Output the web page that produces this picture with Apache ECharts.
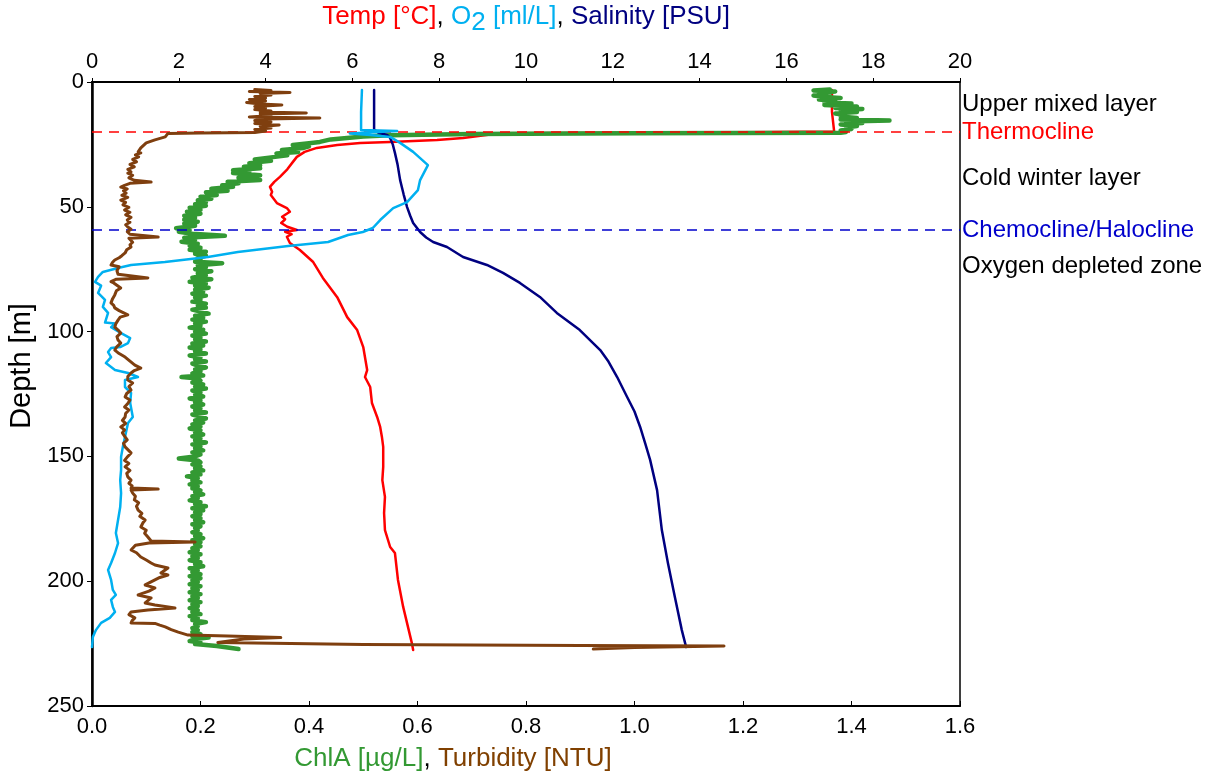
<!DOCTYPE html>
<html>
<head>
<meta charset="utf-8">
<script src="https://cdn.jsdelivr.net/npm/echarts@6.0.0/dist/echarts.min.js"></script>
<style>
  html, body { margin: 0; padding: 0; background: #fff; }
  #chart { width: 1217px; height: 774px; }
</style>
</head>
<body>
<div id="chart"></div>
<script>
// profiles as [value, depth m]
// top axis: temperature, oxygen, salinity
const tempProfile = [
  [17.05, 3.2], [17.05, 12.0], [17.1, 19.8], [15.0, 20.1], [12.0, 20.3], [9.4, 20.5], [8.55, 22.4],
  [7.95, 23.2], [6.87, 24.0], [6.18, 24.4], [5.65, 25.2], [5.18, 26.4], [4.9, 28.0], [4.72, 30.0],
  [4.63, 32.0], [4.5, 35.0], [4.33, 38.0], [4.2, 40.0], [4.1, 42.0], [4.15, 44.0], [4.12, 45.3],
  [4.26, 48.5], [4.49, 50.5], [4.56, 52.0], [4.38, 54.0], [4.45, 55.0], [4.36, 56.5], [4.5, 58.0],
  [4.72, 59.3], [4.45, 60.0], [4.6, 61.0], [4.49, 62.0], [4.56, 64.5], [4.79, 67.3], [5.09, 72.0],
  [5.32, 78.5], [5.65, 86.2], [5.88, 94.2], [6.11, 99.4], [6.25, 106.2], [6.34, 115.4], [6.29, 118.2],
  [6.41, 122.2], [6.45, 128.6], [6.57, 134.2], [6.64, 138.2], [6.68, 142.2], [6.71, 146.2],
  [6.71, 154.2], [6.69, 159.5], [6.75, 166.2], [6.73, 172.7], [6.75, 179.5], [6.87, 186.3],
  [6.98, 188.7], [7.05, 199.5], [7.17, 210.3], [7.37, 224.8], [7.4, 227.6]
];
const o2Profile = [
  [6.22, 3.2], [6.2, 12.0], [6.2, 19.2], [7.03, 19.6], [5.94, 20.6], [6.41, 21.2], [6.87, 22.0],
  [7.1, 24.4], [7.4, 28.0], [7.74, 33.3], [7.56, 39.3], [7.51, 43.3], [7.26, 48.1], [6.94, 50.5],
  [6.64, 55.3], [6.47, 58.5], [6.24, 60.1], [5.9, 61.3], [5.44, 64.1], [4.52, 65.7], [3.36, 68.1],
  [2.67, 70.1], [1.68, 72.1], [0.9, 73.3], [0.6, 74.5], [0.25, 76.1], [0.14, 78.1], [0.07, 80.1],
  [0.21, 81.6], [0.25, 82.4], [0.14, 84.5], [0.3, 87.3], [0.25, 90.1], [0.37, 92.5], [0.3, 96.4],
  [0.53, 96.8], [0.44, 98.2], [0.67, 100.6], [0.88, 102.6], [0.83, 104.6], [0.65, 106.2],
  [0.44, 106.6], [0.37, 108.2], [0.44, 110.2], [0.32, 112.6], [0.53, 115.4], [0.83, 116.6],
  [1.06, 118.2], [0.76, 119.4], [0.76, 122.2], [0.9, 124.6], [0.88, 128.6], [0.94, 134.2],
  [0.83, 136.6], [0.78, 140.6], [0.71, 146.2], [0.67, 150.2], [0.67, 155.4], [0.65, 159.5],
  [0.67, 164.7], [0.65, 170.3], [0.6, 175.5], [0.55, 180.7], [0.6, 184.7], [0.53, 188.7],
  [0.44, 192.7], [0.37, 195.5], [0.44, 199.5], [0.48, 203.5], [0.55, 205.5], [0.44, 207.5],
  [0.48, 210.3], [0.53, 212.3], [0.41, 214.7], [0.21, 216.7], [0.09, 219.6], [0.02, 222.4], [0.0, 226.4]
];
const salinityProfile = [
  [6.5, 3.2], [6.5, 19.0], [6.6, 20.3], [6.8, 21.2], [6.87, 22.4], [6.93, 25.0], [6.98, 28.4],
  [7.04, 33.0], [7.1, 39.3], [7.18, 45.0], [7.26, 50.1], [7.33, 53.5], [7.4, 56.5], [7.56, 60.1],
  [7.7, 62.3], [7.86, 64.1], [8.18, 66.1], [8.55, 70.1], [9.1, 73.3], [9.47, 76.5], [9.86, 80.5],
  [10.32, 86.1], [10.71, 92.5], [11.24, 99.4], [11.71, 107.4], [11.9, 112.0], [12.1, 118.2],
  [12.33, 126.2], [12.5, 132.0], [12.63, 138.2], [12.75, 145.0], [12.86, 151.4], [13.02, 163.5],
  [13.13, 179.5], [13.27, 192.7], [13.43, 206.3], [13.59, 219.6], [13.69, 226.4]
];
// bottom axis: chlorophyll and turbidity
const chlaProfile = [
  [1.36, 3.0], [1.33, 3.4], [1.37, 3.8], [1.34, 4.4], [1.36, 5.0], [1.33, 5.4], [1.35, 6.0], [1.38, 6.4],
  [1.34, 7.0], [1.37, 7.6], [1.35, 8.2], [1.4, 8.6], [1.35, 9.2], [1.41, 9.8], [1.37, 10.4], [1.42, 10.8],
  [1.38, 11.4], [1.41, 12.0], [1.37, 12.6], [1.39, 13.2], [1.38, 13.8], [1.41, 14.4], [1.38, 15.0],
  [1.47, 15.4], [1.39, 15.8], [1.42, 16.4], [1.38, 17.0], [1.41, 17.6], [1.39, 18.2], [1.4, 18.8],
  [1.38, 19.4], [1.39, 20.0], [1.38, 20.3], [1.0, 20.5], [0.7, 20.8], [0.55, 21.3], [0.5, 21.8],
  [0.47, 22.4], [0.44, 23.0], [0.42, 24.0], [0.4, 24.5], [0.37, 25.2], [0.4, 25.8], [0.39, 26.4],
  [0.35, 27.2], [0.38, 28.0], [0.34, 28.6], [0.36, 29.4], [0.33, 30.2], [0.3, 31.0], [0.33, 31.6],
  [0.29, 32.5], [0.31, 33.4], [0.28, 34.0], [0.31, 34.6], [0.26, 35.4], [0.29, 36.0], [0.26, 36.5],
  [0.31, 37.4], [0.27, 38.4], [0.31, 39.3], [0.25, 40.0], [0.27, 40.6], [0.24, 41.4], [0.26, 42.0],
  [0.22, 42.8], [0.25, 43.6], [0.21, 44.2], [0.23, 45.3], [0.2, 46.0], [0.22, 46.8], [0.195, 47.4],
  [0.21, 48.2], [0.19, 49.0], [0.21, 49.6], [0.18, 50.4], [0.2, 51.2], [0.175, 52.0], [0.2, 52.8],
  [0.17, 53.6], [0.19, 54.4], [0.17, 55.2], [0.195, 56.0], [0.17, 56.8], [0.19, 57.6], [0.155, 58.6],
  [0.18, 59.4], [0.16, 60.0], [0.185, 60.8], [0.245, 61.6], [0.17, 62.4], [0.19, 63.2], [0.165, 64.0],
  [0.195, 64.8], [0.18, 65.6], [0.2, 66.4], [0.18, 67.2], [0.21, 68.0], [0.19, 68.8], [0.21, 69.6],
  [0.195, 70.4], [0.2, 71.2], [0.19, 72.0], [0.24, 72.6], [0.195, 73.4], [0.21, 74.2], [0.19, 75.0],
  [0.22, 75.8], [0.195, 76.6], [0.21, 77.4], [0.185, 78.4], [0.22, 79.0], [0.18, 80.0], [0.21, 80.8],
  [0.19, 81.6], [0.215, 82.4], [0.19, 83.2], [0.205, 84.0], [0.185, 84.8], [0.21, 85.6], [0.19, 86.4],
  [0.2, 87.2], [0.185, 88.0], [0.21, 88.8], [0.195, 89.6], [0.21, 90.4], [0.185, 91.2], [0.2, 92.0],
  [0.215, 92.8], [0.19, 93.6], [0.205, 94.4], [0.185, 95.2], [0.21, 96.0], [0.19, 96.8], [0.2, 97.6],
  [0.18, 98.4], [0.205, 99.2], [0.19, 100.0], [0.21, 100.8], [0.185, 101.6], [0.2, 102.4], [0.19, 103.2],
  [0.21, 104.0], [0.185, 104.8], [0.205, 105.6], [0.18, 106.4], [0.2, 107.2], [0.19, 108.0], [0.21, 108.8],
  [0.18, 109.6], [0.2, 110.4], [0.19, 111.2], [0.21, 112.0], [0.185, 112.8], [0.195, 113.6], [0.21, 114.4],
  [0.19, 115.2], [0.2, 116.0], [0.185, 116.8], [0.205, 117.6], [0.165, 118.2], [0.195, 118.8], [0.2, 119.6],
  [0.185, 120.4], [0.205, 121.2], [0.19, 122.0], [0.21, 122.8], [0.185, 123.6], [0.2, 124.4], [0.19, 125.2],
  [0.205, 126.0], [0.18, 126.8], [0.2, 127.6], [0.19, 128.4], [0.205, 129.2], [0.185, 130.0], [0.2, 130.8],
  [0.19, 131.6], [0.21, 132.4], [0.185, 133.2], [0.2, 134.0], [0.21, 134.8], [0.19, 135.6], [0.205, 136.4],
  [0.185, 137.2], [0.2, 138.0], [0.18, 138.8], [0.2, 139.6], [0.19, 140.4], [0.205, 141.2], [0.185, 142.0],
  [0.2, 142.8], [0.19, 143.6], [0.21, 144.4], [0.185, 145.2], [0.2, 146.0], [0.19, 146.8], [0.205, 147.6],
  [0.185, 148.4], [0.2, 149.2], [0.19, 150.0], [0.16, 150.8], [0.195, 151.6], [0.2, 152.4], [0.185, 153.2],
  [0.2, 154.0], [0.19, 154.8], [0.205, 155.6], [0.185, 156.4], [0.2, 157.2], [0.175, 158.0], [0.195, 158.8],
  [0.185, 159.6], [0.2, 160.4], [0.18, 161.2], [0.195, 162.0], [0.185, 162.8], [0.2, 163.6], [0.19, 164.4],
  [0.205, 165.2], [0.185, 166.0], [0.195, 166.8], [0.18, 167.6], [0.2, 168.4], [0.19, 169.2], [0.21, 170.0],
  [0.185, 170.8], [0.205, 171.6], [0.19, 172.4], [0.2, 173.2], [0.185, 174.0], [0.2, 174.8], [0.19, 175.6],
  [0.205, 176.4], [0.185, 177.2], [0.2, 178.0], [0.19, 178.8], [0.195, 179.6], [0.185, 180.4], [0.2, 181.2],
  [0.19, 182.0], [0.205, 182.8], [0.185, 183.6], [0.2, 184.4], [0.19, 185.2], [0.2, 186.0], [0.185, 186.8],
  [0.195, 187.6], [0.18, 188.4], [0.2, 189.2], [0.185, 190.0], [0.195, 190.8], [0.18, 191.6], [0.2, 192.4],
  [0.19, 193.2], [0.205, 194.0], [0.18, 194.8], [0.195, 195.6], [0.185, 196.4], [0.2, 197.2], [0.18, 198.0],
  [0.2, 198.8], [0.185, 199.6], [0.195, 200.4], [0.18, 201.2], [0.2, 202.0], [0.185, 202.8], [0.195, 203.6],
  [0.18, 204.4], [0.2, 205.2], [0.185, 206.0], [0.195, 206.8], [0.18, 207.6], [0.2, 208.4], [0.185, 209.2],
  [0.195, 210.0], [0.18, 210.8], [0.195, 211.6], [0.185, 212.4], [0.2, 213.2], [0.18, 214.0], [0.195, 214.8],
  [0.185, 215.6], [0.21, 216.4], [0.19, 217.2], [0.195, 218.0], [0.185, 218.8], [0.195, 219.6], [0.185, 220.4],
  [0.2, 221.2], [0.185, 222.0], [0.215, 222.6], [0.19, 223.2], [0.18, 224.0], [0.2, 224.6], [0.19, 225.2],
  [0.23, 226.0], [0.27, 227.2]
];
const turbidityProfile = [
  [0.3, 3.0], [0.33, 3.4], [0.29, 3.8], [0.365, 4.2], [0.31, 4.6], [0.33, 5.2], [0.3, 5.8], [0.32, 6.4],
  [0.29, 7.0], [0.32, 7.6], [0.285, 8.2], [0.31, 8.8], [0.35, 9.2], [0.3, 9.8], [0.32, 10.4], [0.3, 11.0],
  [0.33, 11.6], [0.31, 12.0], [0.395, 12.4], [0.31, 12.8], [0.33, 13.4], [0.29, 14.0], [0.42, 14.4],
  [0.32, 14.8], [0.3, 15.4], [0.33, 16.0], [0.3, 16.6], [0.345, 17.2], [0.31, 17.8], [0.33, 18.4],
  [0.3, 19.0], [0.32, 19.6], [0.3, 20.2], [0.2, 20.4], [0.14, 20.6], [0.135, 22.0], [0.116, 23.2],
  [0.1, 24.4], [0.098, 25.2], [0.09, 26.4], [0.093, 27.2], [0.085, 28.0], [0.09, 28.4], [0.08, 29.2],
  [0.086, 30.0], [0.075, 31.0], [0.082, 32.0], [0.07, 33.0], [0.078, 34.0], [0.066, 35.0], [0.072, 36.0],
  [0.066, 36.5], [0.075, 37.4], [0.068, 38.4], [0.078, 39.4], [0.109, 40.1], [0.07, 40.6], [0.06, 41.4],
  [0.053, 42.1], [0.065, 42.8], [0.058, 43.6], [0.063, 44.5], [0.055, 45.4], [0.066, 46.2], [0.053, 47.3],
  [0.062, 48.2], [0.057, 49.2], [0.068, 50.2], [0.06, 51.3], [0.07, 52.2], [0.062, 53.2], [0.072, 54.2],
  [0.065, 55.3], [0.07, 56.2], [0.062, 57.2], [0.066, 58.1], [0.072, 59.0], [0.065, 60.0], [0.07, 61.0],
  [0.122, 62.1], [0.068, 62.6], [0.066, 63.3], [0.075, 64.2], [0.07, 65.2], [0.072, 66.1], [0.064, 67.2],
  [0.061, 68.5], [0.055, 69.6], [0.05, 70.4], [0.042, 71.3], [0.038, 72.2], [0.035, 73.3], [0.05, 74.0],
  [0.053, 74.5], [0.046, 75.6], [0.048, 77.0], [0.103, 78.5], [0.045, 79.0], [0.035, 80.0], [0.04, 80.5],
  [0.053, 82.5], [0.045, 83.6], [0.042, 85.3], [0.038, 86.8], [0.035, 88.5], [0.04, 89.5], [0.042, 90.5],
  [0.05, 91.6], [0.066, 93.3], [0.052, 94.2], [0.048, 95.4], [0.044, 96.8], [0.042, 98.2], [0.048, 99.4],
  [0.053, 100.6], [0.046, 102.0], [0.048, 103.4], [0.053, 104.6], [0.046, 106.0], [0.042, 107.4],
  [0.05, 108.8], [0.061, 110.2], [0.07, 111.8], [0.079, 113.4], [0.09, 114.6], [0.078, 115.6],
  [0.072, 116.6], [0.066, 118.0], [0.066, 119.4], [0.075, 120.6], [0.068, 122.0], [0.072, 123.4],
  [0.064, 124.8], [0.061, 126.2], [0.07, 127.4], [0.066, 128.8], [0.06, 130.2], [0.068, 131.4],
  [0.062, 132.8], [0.061, 134.2], [0.056, 135.6], [0.062, 136.8], [0.053, 138.2], [0.06, 139.4],
  [0.056, 140.6], [0.061, 142.2], [0.065, 143.4], [0.058, 144.8], [0.061, 146.2], [0.072, 148.6],
  [0.066, 150.0], [0.06, 151.6], [0.068, 152.8], [0.061, 154.2], [0.07, 155.6], [0.064, 156.8],
  [0.066, 158.2], [0.072, 159.5], [0.068, 160.8], [0.074, 161.8], [0.072, 162.7], [0.122, 163.1],
  [0.072, 163.5], [0.075, 164.7], [0.08, 166.0], [0.078, 167.4], [0.086, 168.6], [0.082, 170.0],
  [0.085, 171.5], [0.092, 172.8], [0.088, 174.0], [0.098, 175.5], [0.094, 176.6], [0.09, 178.3],
  [0.1, 179.6], [0.097, 180.8], [0.103, 182.3], [0.109, 183.9], [0.19, 184.3], [0.105, 184.7],
  [0.08, 185.6], [0.072, 187.5], [0.082, 188.6], [0.09, 190.3], [0.1, 191.5], [0.109, 192.7],
  [0.116, 193.5], [0.14, 194.7], [0.127, 196.7], [0.14, 197.5], [0.125, 198.5], [0.116, 199.5],
  [0.098, 201.5], [0.116, 202.7], [0.105, 204.0], [0.085, 205.5], [0.109, 206.7], [0.098, 208.7],
  [0.116, 209.5], [0.153, 210.7], [0.103, 211.5], [0.072, 212.3], [0.068, 213.4], [0.079, 214.7],
  [0.074, 215.8], [0.072, 216.7], [0.116, 216.9], [0.125, 217.6], [0.135, 218.3], [0.146, 219.4],
  [0.159, 220.4], [0.177, 221.6], [0.25, 222.0], [0.348, 222.6], [0.28, 223.2], [0.232, 224.6],
  [0.5, 225.4], [0.9, 225.8], [1.165, 226.0], [1.0, 226.6], [0.924, 227.2]
];

// layer annotations on the right (depth in m)
const layerNames = ['Upper mixed layer', 'Thermocline', 'Cold winter layer', 'Chemocline/Halocline', 'Oxygen depleted zone'];
const layerDepths = [8.8, 20, 38.5, 59.3, 73.7];
const layerColors = ['#000000', '#ff0000', '#000000', '#0000cc', '#000000'];
const layerDashed = [false, true, false, true, false];

const FONT = 'Liberation Sans, Arial, sans-serif';

const chart = echarts.init(document.getElementById('chart'), null, { renderer: 'canvas' });

const layerMarks = layerNames.map((name, i) => ({
  name: name,
  yAxis: layerDepths[i],
  lineStyle: layerDashed[i]
    ? { color: layerColors[i], type: [10, 7], width: 1.5 }
    : { color: 'rgba(255,255,255,0)', width: 1 },
  label: {
    show: true,
    position: 'end',
    distance: 2,
    formatter: name,
    color: layerColors[i],
    fontSize: 24,
    fontFamily: FONT
  }
}));

function line(name, data, color, width, axis, z) {
  return {
    name: name,
    type: 'line',
    xAxisIndex: axis,
    yAxisIndex: 0,
    data: data,
    showSymbol: false,
    symbol: 'none',
    z: z,
    lineStyle: { color: color, width: width, join: 'round', cap: 'round' },
    silent: true
  }
}

const tempSeries = line('Temp', tempProfile, '#ff0000', 2.5, 1, 2);
tempSeries.markLine = {
  silent: true,
  symbol: 'none',
  animation: false,
  data: layerMarks
};

chart.setOption({
  animation: false,
  backgroundColor: '#fff',
  textStyle: { fontFamily: FONT },
  grid: {
    left: 92,
    right: 257,
    top: 82,
    bottom: 68,
    containLabel: false,
    outerBoundsMode: 'none',
    show: true,
    borderColor: '#000',
    borderWidth: 1.5
  },
  xAxis: [
    {
      type: 'value',
      position: 'bottom',
      min: 0,
      max: 1.6,
      interval: 0.2,
      name: '{g|ChlA [µg/L]}{k|, }{b|Turbidity [NTU]}',
      nameLocation: 'middle',
      nameGap: 40,
      nameTextStyle: {
        padding: [0, 146, 0, 0],
        rich: {
          g: { color: '#339933', fontSize: 26, fontFamily: FONT },
          k: { color: '#000', fontSize: 26, fontFamily: FONT },
          b: { color: '#804000', fontSize: 26, fontFamily: FONT }
        }
      },
      axisLine: { show: true, onZero: false, lineStyle: { color: '#000', width: 2 } },
      axisTick: { show: true, inside: true, length: 5, lineStyle: { color: '#000' } },
      axisLabel: { color: '#000', fontSize: 22, margin: 10, formatter: v => v.toFixed(1) },
      splitLine: { show: false }
    },
    {
      type: 'value',
      position: 'top',
      min: 0,
      max: 20,
      interval: 2,
      name: '{r|Temp [°C]}{k|, }{c|O}{s|2}{c| [ml/L]}{k|, }{n|Salinity [PSU]}',
      nameLocation: 'middle',
      nameGap: 46,
      nameTextStyle: {
        rich: {
          r: { color: '#ff0000', fontSize: 26, fontFamily: FONT },
          k: { color: '#000', fontSize: 26, fontFamily: FONT },
          c: { color: '#00b0f0', fontSize: 26, fontFamily: FONT },
          s: { color: '#00b0f0', fontSize: 26, fontFamily: FONT, padding: [12, 0, 0, 0] },
          n: { color: '#000080', fontSize: 26, fontFamily: FONT }
        }
      },
      axisLine: { show: true, onZero: false, lineStyle: { color: '#000', width: 2 } },
      axisTick: { show: true, inside: false, length: 4, lineStyle: { color: '#000' } },
      axisLabel: { color: '#000', fontSize: 22, margin: 9 },
      splitLine: { show: false }
    }
  ],
  yAxis: {
    type: 'value',
    inverse: true,
    min: 0,
    max: 250,
    interval: 50,
    name: 'Depth [m]',
    nameLocation: 'middle',
    nameGap: 54,
    nameRotate: 90,
    nameTextStyle: { color: '#000', fontSize: 29, padding: [0, 0, 0, 56] },
    axisLine: { show: true, onZero: false, lineStyle: { color: '#000', width: 2.5 } },
    axisTick: { show: true, inside: false, length: 5, lineStyle: { color: '#000' } },
    axisLabel: { color: '#000', fontSize: 22, margin: 8 },
    splitLine: { show: false }
  },
  series: [
    tempSeries,
    line('ChlA', chlaProfile, '#339933', 4.5, 0, 3),
    line('Salinity', salinityProfile, '#000080', 2.5, 1, 4),
    line('O2', o2Profile, '#00b0f0', 2.5, 1, 5),
    line('Turbidity', turbidityProfile, '#7f3f0f', 3, 0, 6)
  ]
});
</script>
</body>
</html>
